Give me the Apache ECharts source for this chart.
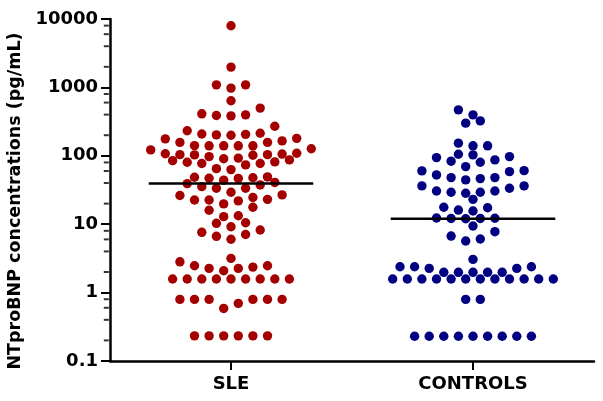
<!DOCTYPE html>
<html><head><meta charset="utf-8">
<script src="https://cdn.jsdelivr.net/npm/echarts@6/dist/echarts.min.js"></script>
<style>html,body{margin:0;padding:0;background:#fff}#c{width:603px;height:401px}</style>
</head><body><div id="c"></div>
<script>
const categories = ['SLE', 'CONTROLS'];
const yAxisTitle = 'NTproBNP concentrations (pg/mL)';
const yTicks = [0.1, 1, 10, 100, 1000, 10000];
const minorTickMultipliers = [2, 4, 6, 8];

const sleValues = [
  0.233, 0.233, 0.233, 0.233, 0.233, 0.233,
  0.587, 0.695,
  0.795, 0.795, 0.795, 0.795, 0.795, 0.795,
  1.58, 1.58, 1.58, 1.58, 1.58, 1.58, 1.58, 1.58, 1.58,
  2.09, 2.26, 2.26, 2.36, 2.47, 2.47, 2.82, 3.17,
  6.03, 6.65, 7.07, 7.61, 8.22, 9.19,
  10.3, 10.5, 12.9, 13.3, 16.0,
  17.7, 19.8, 21.9, 22.6, 22.6, 23.1, 24.6, 26.3, 26.8, 29.3,
  33.5, 33.5, 35.4, 37.5, 39.2, 40.8, 44.0, 46.7, 47.0, 47.8, 48.6, 49.1,
  62.8, 64.9, 73.6, 77.1, 77.1, 80.6, 81.4, 85.0, 87.1, 90.7, 92.5,
  97.3, 102, 103, 104, 104, 106, 107, 109,
  122, 127, 140, 140, 140, 140, 141, 157, 157, 165, 177, 180,
  200, 202, 206, 208, 214, 232, 270,
  384, 388, 397, 411, 498,
  637,
  977, 1090, 1090,
  1980,
  7980
];

const controlValues = [
  0.23, 0.23, 0.23, 0.23, 0.23, 0.23, 0.23, 0.23, 0.23,
  0.795, 0.795,
  1.58, 1.58, 1.58, 1.58, 1.58, 1.58, 1.58, 1.58, 1.58, 1.58, 1.58, 1.58,
  1.98, 1.98, 1.98, 1.98, 1.98,
  2.26, 2.26,
  2.39, 2.39, 2.39,
  3.06,
  5.68, 6.07, 6.71, 7.77,
  9.41,
  12.0, 12.1, 12.1, 12.2, 12.3,
  15.6, 16.1, 17.4, 17.7,
  23.1, 28.3, 29.3, 29.3, 30.6, 30.6, 33.5, 36.3, 36.3,
  44.4, 46.4, 48.0, 48.0, 52.5, 58.7, 60.1, 60.7, 69.5,
  80.6, 83.4, 87.1, 94.1, 97.3, 103, 105.5,
  140, 140, 153,
  300, 324, 397, 470
];

const W = 603, H = 401;
const G = { left: 110, right: 9, top: 19, bottom: 40 };
const plotW = W - G.left - G.right;
const plotH = H - G.top - G.bottom;
const logMin = Math.log10(yTicks[0]), logMax = Math.log10(yTicks[yTicks.length - 1]);
const decades = logMax - logMin;

// row-based dot plot layout (Prism-like)
function swarm(values, center) {
  const pxStep = 14.6, diam = 9.0, rowH = 10, rowGap = 6;
  const pxPerDecade = plotH / decades;
  const unitPerPx = categories.length / plotW;
  const pts = values.map(v => ({ v, y: Math.log10(v) * pxPerDecade })).sort((a, b) => a.v - b.v);
  const rows = [];
  for (const p of pts) {
    const r = rows[rows.length - 1];
    if (r && p.y - r[0].y < rowH && p.y - r[r.length - 1].y < rowGap) r.push(p); else rows.push([p]);
  }
  const placed = [];
  const out = [];
  function tryRow(row, half) {
    const seq = [];
    for (let k = 0; k < 60; k++) {
      if (!half) seq.push(Math.ceil(k / 2) * (k % 2 ? -1 : 1));
      else seq.push((Math.floor(k / 2) + 0.5) * (k % 2 ? 1 : -1));
    }
    const used = new Set();
    const res = [];
    const local = [];
    let cost = 0;
    for (const p of row) {
      for (let si = 0; si < seq.length; si++) {
        if (used.has(si)) continue;
        const x = seq[si] * pxStep;
        const ok = placed.every(q => (q.x - x) ** 2 + (q.y - p.y) ** 2 >= diam * diam) &&
                   local.every(q => (q.x - x) ** 2 + (q.y - p.y) ** 2 >= diam * diam);
        if (ok) {
          used.add(si);
          local.push({ x, y: p.y });
          res.push({ x, p });
          cost += Math.abs(seq[si]);
          break;
        }
      }
    }
    return { res, cost };
  }
  for (const row of rows) {
    const even = row.length % 2 === 0;
    const a = tryRow(row, false), b = tryRow(row, true);
    let pick;
    if (Math.abs(a.cost - b.cost) < 1e-9) pick = even ? b : a;
    else pick = a.cost < b.cost ? a : b;
    for (const r of pick.res) {
      placed.push({ x: r.x, y: r.p.y });
      out.push([center + r.x * unitPerPx, r.p.v]);
    }
  }
  return out;
}
function median(arr) {
  const s = arr.slice().sort((a, b) => a - b);
  const n = s.length;
  return n % 2 ? s[(n - 1) / 2] : Math.sqrt(s[n / 2 - 1] * s[n / 2]);
}

const minorTickValues = [];
for (let e = Math.round(logMin); e < Math.round(logMax); e++)
  minorTickMultipliers.forEach(mu => minorTickValues.push(+(mu * Math.pow(10, e)).toPrecision(6)));

const groups = [sleValues, controlValues];
const colors = ['#A50000', '#000080'];
const halfLine = 0.34;
const series = [];
groups.forEach((vals, i) => {
  const center = i + 0.5;
  series.push({
    type: 'scatter', xAxisIndex: 1, yAxisIndex: 0,
    symbol: 'circle', symbolSize: 9.4,
    itemStyle: { color: colors[i], opacity: 1 },
    data: swarm(vals, center), z: 2, silent: true
  });
  const m = median(vals);
  series.push({
    type: 'line', xAxisIndex: 1, yAxisIndex: 0,
    symbol: 'none', silent: true, z: 3,
    lineStyle: { color: '#000', width: 2.5 },
    data: [[center - halfLine, m], [center + halfLine, m]]
  });
});
// minor ticks of the log axis (at 2, 4, 6, 8 of each decade)
series.push({
  type: 'scatter', xAxisIndex: 1, yAxisIndex: 0, silent: true, clip: false, z: 6,
  symbol: 'rect', symbolSize: [5, 2], symbolOffset: [-3.7, 0],
  itemStyle: { color: '#000' },
  data: minorTickValues.map(v => [0, v])
});

const font = 'DejaVu Sans';
const chart = echarts.init(document.getElementById('c'), null, { renderer: 'canvas', width: W, height: H });
chart.setOption({
  animation: false,
  backgroundColor: '#fff',
  grid: { left: G.left, right: G.right, top: G.top, bottom: G.bottom, containLabel: false, outerBoundsMode: 'none' },
  xAxis: [
    {
      type: 'category', data: categories, boundaryGap: true, position: 'bottom',
      axisLine: { show: true, onZero: false, lineStyle: { color: '#000', width: 2.5 } },
      axisTick: { show: true, alignWithLabel: true, length: 9, lineStyle: { color: '#000', width: 2 } },
      axisLabel: { color: '#000', fontFamily: font, fontWeight: 'bold', fontSize: 18, margin: 14 },
      splitLine: { show: false }
    },
    { type: 'value', min: 0, max: categories.length, show: false }
  ],
  yAxis: [{
    type: 'log', logBase: 10, min: yTicks[0], max: yTicks[yTicks.length - 1],
    name: yAxisTitle, nameLocation: 'middle', nameGap: 84,
    nameTextStyle: { color: '#000', fontFamily: font, fontWeight: 'bold', fontSize: 17.5, padding: [0, 22, 0, 0] },
    axisLine: { show: true, lineStyle: { color: '#000', width: 2.5 } },
    axisTick: { show: true, length: 9, lineStyle: { color: '#000', width: 2 } },
    minorTick: { show: false },
    axisLabel: { color: '#000', fontFamily: font, fontWeight: 'bold', fontSize: 18, margin: 12,
      formatter: v => String(+v.toPrecision(6)) },
    splitLine: { show: false },
    z: 5
  }],
  series
});
</script>
</body></html>
